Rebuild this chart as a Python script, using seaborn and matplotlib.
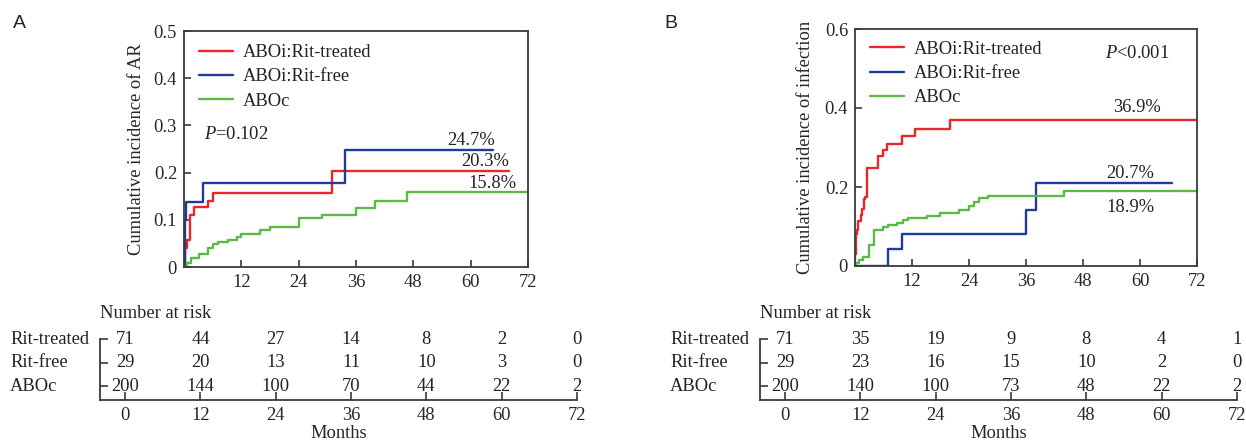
import numpy as np
import pandas as pd
import seaborn as sns
import matplotlib.pyplot as plt
from matplotlib.transforms import blended_transform_factory

groups = ["ABOi:Rit-treated", "ABOi:Rit-free", "ABOc"]
colors = ["#e8262b", "#1f3d98", "#5bb947"]
risk_rows = ["Rit-treated", "Rit-free", "ABOc"]
risk_months = [0, 12, 24, 36, 48, 60, 72]

# panel A: acute rejection (step curves, months / cumulative incidence)
ar_treated_t = [0, 0.3, 0.6, 1.2, 2.1, 5.0, 6.0, 31.0, 68.1]
ar_treated_v = [0, 0.04, 0.057, 0.111, 0.127, 0.14, 0.157, 0.203, 0.203]
ar_free_t = [0, 0.2, 0.5, 4.0, 33.8, 64.6]
ar_free_v = [0, 0.10, 0.138, 0.177, 0.247, 0.247]
ar_aboc_t = [0, 0.7, 1.5, 3.2, 5.0, 6.0, 7.1, 9.2, 11.1, 12.0, 16.0, 18.0, 24.0, 28.9, 35.9, 39.9, 46.7, 72]
ar_aboc_v = [0, 0.008, 0.02, 0.027, 0.041, 0.048, 0.053, 0.058, 0.064, 0.07, 0.078, 0.085, 0.103, 0.111, 0.124, 0.14, 0.158, 0.158]

# panel B: infection
inf_treated_t = [0, 0.1, 0.3, 0.45, 0.6, 1.3, 1.5, 1.8, 2.1, 2.5, 4.8, 5.8, 6.7, 9.9, 12.7, 20.0, 72]
inf_treated_v = [0, 0.03, 0.08, 0.09, 0.115, 0.13, 0.145, 0.17, 0.175, 0.247, 0.278, 0.294, 0.31, 0.328, 0.346, 0.369, 0.369]
inf_free_t = [0, 7.0, 10.0, 35.9, 38.1, 66.8]
inf_free_v = [0, 0.042, 0.081, 0.143, 0.209, 0.209]
inf_aboc_t = [0, 0.3, 0.9, 1.7, 2.9, 4.0, 5.9, 7.0, 8.8, 10.1, 11.2, 15.1, 17.9, 22.0, 23.9, 25.0, 26.1, 28.1, 44.0, 72]
inf_aboc_v = [0, 0.007, 0.015, 0.024, 0.053, 0.091, 0.1, 0.104, 0.11, 0.116, 0.122, 0.127, 0.135, 0.143, 0.152, 0.163, 0.171, 0.177, 0.189, 0.189]

# number at risk
ar_risk = [[71, 44, 27, 14, 8, 2, 0],
           [29, 20, 13, 11, 10, 3, 0],
           [200, 144, 100, 70, 44, 22, 2]]
inf_risk = [[71, 35, 19, 9, 8, 4, 1],
            [29, 23, 16, 15, 10, 2, 0],
            [200, 140, 100, 73, 48, 22, 2]]

ar_pct = ["24.7%", "20.3%", "15.8%"]
inf_pct = ["36.9%", "20.7%", "18.9%"]

sns.set_theme(style="ticks")
plt.rcParams['font.family'] = ['Liberation Serif', 'DejaVu Serif']
plt.rcParams['mathtext.fontset'] = 'custom'
plt.rcParams['mathtext.it'] = 'Liberation Serif:italic'
plt.rcParams['mathtext.rm'] = 'Liberation Serif'
plt.rcParams['font.size'] = 13.3
plt.rcParams['text.color'] = '#222222'

SPINE = '#3a3a3a'
W, H = 1246, 446


def box(x0, y0, x1, y1):
    # pixel box -> figure fraction rect
    return [x0 / W, 1 - y1 / H, (x1 - x0) / W, (y1 - y0) / H]


def curve_frame(series):
    rows = []
    for g, (t, v) in zip(groups, series):
        rows += [(g, a, b) for a, b in zip(t, v)]
    return pd.DataFrame(rows, columns=["group", "month", "ci"])


def km_panel(ax, df, ymax, ystep, ylabel, pct, pct_pos, ptext, ppos, labelpad, leg_y):
    sns.lineplot(data=df, x="month", y="ci", hue="group", hue_order=groups,
                 palette=colors, drawstyle="steps-post", estimator=None,
                 sort=False, lw=1.7, ax=ax)
    ax.set_xlim(0, 72)
    ax.set_ylim(0, ymax)
    ax.set_xticks(range(12, 73, 12))
    yt = np.arange(0, ymax + 1e-9, ystep)
    ax.set_yticks(yt)
    ax.set_yticklabels(["0"] + [f"{y:.1f}" for y in yt[1:]], fontsize=13.3)
    ax.set_xticklabels([str(m) for m in range(12, 73, 12)], fontsize=13.3)
    ax.set_xlabel("")
    ax.set_ylabel(ylabel, fontsize=13.3, labelpad=labelpad)
    ax.tick_params(direction="in", length=5, width=1.2, color=SPINE, pad=5)
    for s in ax.spines.values():
        s.set_color(SPINE)
        s.set_linewidth(1.3)
    ax.legend(loc="upper left", bbox_to_anchor=(0.045, leg_y), frameon=False,
              handlelength=1.8, handletextpad=0.55, labelspacing=0.39,
              borderpad=0, borderaxespad=0, fontsize=13.3)
    for txt, (x, y) in zip(pct, pct_pos):
        ax.text(x, y, txt, ha="center", va="center", fontsize=13.3)
    ax.text(ppos[0], ppos[1], ptext, ha="left", va="center", fontsize=13.3)


def risk_table(fig, ax, counts, x_label_px):
    ax.set_xlim(-4, 72)
    ax.set_ylim(0.43, 3)
    for i, vals in enumerate(counts):
        for m, n in zip(risk_months, vals):
            ax.text(m, 3 - i, str(n), ha="center", va="center", fontsize=13.3)
    ax.set_xticks(risk_months)
    ax.set_xticklabels([str(m) for m in risk_months], fontsize=13.3)
    ax.set_yticks([3, 2, 1])
    ax.set_yticklabels([])
    ax.tick_params(direction="in", length=6, width=1.2, color=SPINE, pad=5)
    sns.despine(ax=ax)
    for s in ["left", "bottom"]:
        ax.spines[s].set_color(SPINE)
        ax.spines[s].set_linewidth(1.3)
    ax.set_xlabel("Months", fontsize=13.3, labelpad=1)
    tr = blended_transform_factory(fig.transFigure, ax.transData)
    for i, name in enumerate(risk_rows):
        ax.text(x_label_px / W, 3 - i, name, transform=tr, ha="left", va="center", fontsize=13.3)
    fig.text(ax.get_position().x0, 1 - 313 / H, "Number at risk", ha="left", va="center", fontsize=13.3)


fig = plt.figure(figsize=(12.46, 4.46), dpi=100)

ax_a = fig.add_axes(box(184, 31, 528, 267))
ax_b = fig.add_axes(box(855, 29, 1197, 266))
tab_a = fig.add_axes(box(100, 339, 577, 400))
tab_b = fig.add_axes(box(760, 339, 1237, 400))

km_panel(ax_a, curve_frame([(ar_treated_t, ar_treated_v), (ar_free_t, ar_free_v), (ar_aboc_t, ar_aboc_v)]),
         0.5, 0.1, "Cumulative incidence of AR", ar_pct,
         [(60.2, 0.269), (63.0, 0.223), (64.6, 0.177)], r"$P$=0.102", (4.2, 0.28), 6, 0.944)
km_panel(ax_b, curve_frame([(inf_treated_t, inf_treated_v), (inf_free_t, inf_free_v), (inf_aboc_t, inf_aboc_v)]),
         0.6, 0.2, "Cumulative incidence of infection", inf_pct,
         [(59.3, 0.40), (57.9, 0.233), (57.9, 0.149)], r"$P$<0.001", (52.6, 0.539), 8, 0.95)

risk_table(fig, tab_a, ar_risk, 10)
risk_table(fig, tab_b, inf_risk, 670)

fig.text(19 / W, 1 - 24 / H, "A", ha="center", va="center", fontsize=14,
         family=["Liberation Sans", "DejaVu Sans"])
fig.text(671 / W, 1 - 24 / H, "B", ha="center", va="center", fontsize=14,
         family=["Liberation Sans", "DejaVu Sans"])

fig.savefig("out.png", dpi=100)
